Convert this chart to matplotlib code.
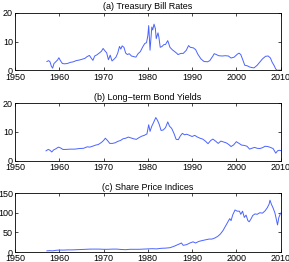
import matplotlib
matplotlib.use("Agg")
import matplotlib.pyplot as plt

plt.rcParams['font.family'] = ['Liberation Sans', 'DejaVu Sans']

# (a) Treasury bill rates
tb_years = [1957.2, 1957.6, 1957.9, 1958.2, 1958.5, 1958.8, 1959.2, 1959.6, 1959.9, 1960.3,
            1960.7, 1961.2, 1961.8, 1962.5, 1963.2, 1963.8, 1964.5, 1965.2, 1965.8, 1966.3,
            1966.8, 1967.2, 1967.6, 1968.0, 1968.5, 1969.0, 1969.5, 1969.9, 1970.3, 1970.7,
            1971.1, 1971.5, 1971.9, 1972.3, 1972.8, 1973.2, 1973.6, 1973.9, 1974.2, 1974.6,
            1975.0, 1975.4, 1975.8, 1976.3, 1976.8, 1977.3, 1977.8, 1978.3, 1978.8, 1979.3,
            1979.7, 1980.0, 1980.2, 1980.5, 1980.9, 1981.1, 1981.4, 1981.7, 1981.9, 1982.3,
            1982.5, 1982.8, 1983.2, 1983.6, 1984.0, 1984.5, 1985.0, 1985.5, 1986.0, 1986.5,
            1986.8, 1987.5, 1988.0, 1988.7, 1989.2, 1989.6, 1990.3, 1990.8, 1991.3, 1992.0,
            1992.7, 1993.5, 1994.0, 1994.7, 1995.0, 1995.5, 1996.0, 1996.8, 1997.5, 1998.2,
            1998.8, 1999.5, 2000.2, 2000.6, 2001.0, 2001.5, 2001.9, 2002.5, 2003.0, 2003.5,
            2004.0, 2004.7, 2005.3, 2005.9, 2006.6, 2007.2, 2007.7, 2008.1, 2008.5, 2008.9,
            2009.2, 2009.6, 2010.0]
tb_rates = [3.1, 3.4, 3.0, 1.5, 0.8, 2.4, 3.0, 3.6, 4.4, 3.3,
            2.4, 2.3, 2.4, 2.8, 3.0, 3.4, 3.6, 3.9, 4.2, 4.8,
            5.2, 4.3, 3.5, 5.0, 5.4, 6.0, 6.6, 7.6, 6.8, 6.1,
            3.7, 5.3, 3.3, 3.8, 4.6, 6.0, 8.3, 7.4, 8.5, 8.0,
            6.0, 5.5, 5.8, 5.0, 4.8, 4.6, 5.8, 6.5, 8.0, 9.3,
            9.6, 12.0, 15.5, 7.0, 15.0, 14.0, 16.0, 14.5, 11.0, 13.0,
            11.5, 8.0, 8.3, 8.9, 9.0, 10.3, 8.0, 7.2, 6.6, 6.0,
            5.5, 5.9, 5.9, 7.0, 8.6, 8.0, 7.8, 7.2, 5.6, 4.0,
            3.1, 3.0, 3.4, 5.0, 5.8, 5.5, 5.1, 5.0, 5.1, 5.0,
            4.3, 4.6, 5.6, 6.0, 5.5, 3.5, 1.8, 1.6, 1.2, 1.0,
            0.9, 1.8, 2.9, 4.0, 4.9, 5.0, 4.3, 2.8, 1.8, 0.5,
            0.1, 0.1, 0.1]

# (b) Long-term bond yields
by_years = [1957.0, 1957.5, 1957.9, 1958.3, 1958.7, 1959.2, 1959.8, 1960.3, 1960.8, 1961.5,
            1962.5, 1963.5, 1964.5, 1965.5, 1966.3, 1966.9, 1967.5, 1968.2, 1968.8, 1969.5,
            1970.0, 1970.4, 1970.9, 1971.4, 1972.0, 1972.6, 1973.2, 1973.8, 1974.4, 1975.0,
            1975.6, 1976.2, 1976.8, 1977.4, 1978.0, 1978.6, 1979.2, 1979.8, 1980.2, 1980.5,
            1980.9, 1981.3, 1981.8, 1982.2, 1982.6, 1983.0, 1983.5, 1984.0, 1984.5, 1984.9,
            1985.4, 1985.9, 1986.4, 1986.9, 1987.3, 1987.8, 1988.3, 1988.8, 1989.4, 1990.0,
            1990.6, 1991.2, 1991.8, 1992.4, 1993.0, 1993.6, 1994.2, 1994.7, 1995.3, 1995.9,
            1996.5, 1997.1, 1997.7, 1998.3, 1998.8, 1999.4, 2000.0, 2000.6, 2001.2, 2001.8,
            2002.4, 2003.0, 2003.5, 2004.1, 2004.7, 2005.3, 2005.9, 2006.5, 2007.1, 2007.7,
            2008.3, 2008.9, 2009.3, 2009.7, 2010.0]
by_yields = [3.4, 3.9, 3.6, 3.0, 3.7, 4.1, 4.7, 4.4, 3.9, 3.9,
             4.0, 4.0, 4.2, 4.3, 4.8, 4.7, 5.0, 5.4, 5.6, 6.3,
             7.0, 7.8, 7.0, 6.0, 6.0, 6.2, 6.7, 7.0, 7.6, 7.8,
             8.2, 7.9, 7.6, 7.4, 8.0, 8.5, 8.8, 9.3, 12.5, 10.2,
             12.0, 13.3, 15.0, 14.0, 12.5, 10.5, 10.7, 11.5, 13.5, 12.0,
             11.2, 9.5, 7.4, 7.3, 8.5, 9.5, 9.0, 9.2, 8.8, 8.4,
             8.8, 8.2, 7.8, 7.5, 6.8, 5.9, 7.0, 7.5, 6.8, 6.0,
             6.8, 6.5, 6.2, 5.6, 4.9, 5.5, 6.6, 6.0, 5.4, 5.3,
             5.0, 4.0, 4.3, 4.6, 4.3, 4.2, 4.5, 5.0, 4.9, 4.6,
             4.2, 2.6, 3.4, 3.6, 3.5]

# (c) Share price indices
sp_years = [1957.2, 1957.8, 1958.5, 1959.3, 1960.0, 1961.0, 1962.0, 1963.0, 1964.0, 1965.0,
            1966.0, 1967.0, 1968.0, 1969.0, 1970.0, 1971.0, 1972.0, 1973.0, 1974.0, 1975.0,
            1976.0, 1977.0, 1978.0, 1979.0, 1980.0, 1981.0, 1982.0, 1983.0, 1984.0, 1985.0,
            1986.0, 1986.8, 1987.6, 1988.0, 1988.8, 1989.5, 1990.2, 1990.8, 1991.5, 1992.2,
            1993.0, 1993.8, 1994.5, 1995.2, 1995.8, 1996.4, 1997.0, 1997.5, 1998.0, 1998.5,
            1998.8, 1999.2, 1999.7, 2000.2, 2000.7, 2001.0, 2001.4, 2001.8, 2002.2, 2002.6,
            2002.9, 2003.3, 2003.7, 2004.2, 2004.7, 2005.3, 2005.9, 2006.5, 2007.0, 2007.4,
            2007.6, 2007.9, 2008.3, 2008.7, 2009.0, 2009.3, 2009.6, 2010.0]
sp_index = [3.0, 3.5, 3.0, 4.5, 5.0, 5.0, 5.5, 5.5, 6.0, 6.5,
            7.0, 7.5, 7.5, 7.5, 7.0, 7.0, 7.5, 7.5, 6.5, 6.0,
            7.0, 7.0, 7.0, 7.5, 8.0, 8.5, 8.0, 9.5, 10.0, 11.0,
            15.0, 19.0, 23.0, 17.0, 19.0, 23.0, 26.0, 23.0, 27.0, 29.0,
            31.0, 33.0, 33.0, 36.0, 40.0, 46.0, 55.0, 65.0, 75.0, 85.0,
            80.0, 95.0, 107.0, 104.0, 104.0, 96.0, 104.0, 88.0, 94.0, 80.0,
            77.0, 84.0, 93.0, 97.0, 96.0, 100.0, 99.0, 105.0, 113.0, 122.0,
            132.0, 122.0, 112.0, 100.0, 85.0, 69.0, 88.0, 99.0]

titles = ['(a) Treasury Bill Rates', '(b) Long\u2212term Bond Yields', '(c) Share Price Indices']
series = [(tb_years, tb_rates), (by_years, by_yields), (sp_years, sp_index)]
y_limits = [(0, 20), (0, 20), (0, 150)]
y_ticks = [[0, 10, 20], [0, 10, 20], [0, 50, 100, 150]]
x_ticks = [1950, 1960, 1970, 1980, 1990, 2000, 2010]

fig = plt.figure(figsize=(2.89, 2.62), dpi=100)

# axes boxes in figure fractions: left, bottom, width, height
boxes = [[0.052, 0.731, 0.919, 0.221],
         [0.052, 0.387, 0.919, 0.219],
         [0.052, 0.038, 0.919, 0.225]]

for box, title, (xs, ys), ylim, yt in zip(boxes, titles, series, y_limits, y_ticks):
    ax = fig.add_axes(box)
    ax.plot(xs, ys, color='#4a63ff', linewidth=0.7)
    ax.set_xlim(1950, 2010)
    ax.set_ylim(*ylim)
    ax.set_xticks(x_ticks)
    ax.set_yticks(yt)
    ax.tick_params(direction='in', length=2, width=0.5, labelsize=6.5, pad=1.5,
                   top=True, right=True)
    for spine in ax.spines.values():
        spine.set_linewidth(0.6)
    ax.set_title(title, fontsize=6.5, pad=2.5)

fig.savefig('out.png', dpi=100)
